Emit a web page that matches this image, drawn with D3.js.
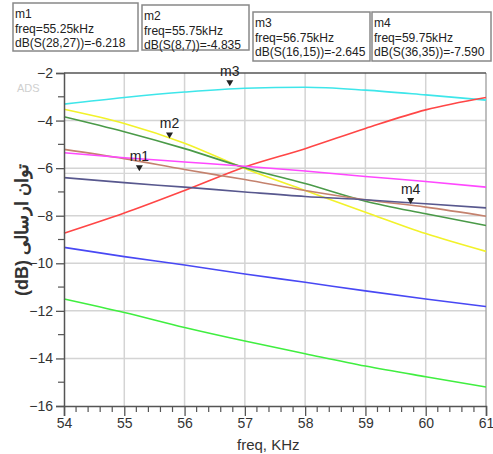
<!DOCTYPE html>
<html>
<head>
<meta charset="utf-8">
<script src="https://cdn.jsdelivr.net/npm/d3@7"></script>
<style>
  body { margin: 0; background: #fff; }
  svg { display: block; font-family: "Liberation Sans", Arial, sans-serif; }
</style>
</head>
<body>
<div id="chart"></div>
<script>
// frequency points (kHz)
const freqs = [54, 55, 56, 57, 58, 59, 60, 61];

// one array per trace, dB values at each freq
const cyanTrace    = [-3.31, -3.03, -2.80, -2.64, -2.60, -2.72, -2.92, -3.14];
const redTrace     = [-8.74, -7.89, -6.94, -5.95, -5.18, -4.33, -3.55, -3.03];
const yellowTrace  = [-3.52, -4.12, -4.95, -6.02, -6.94, -7.85, -8.75, -9.50];
const greenTrace   = [-3.84, -4.47, -5.18, -5.98, -6.65, -7.39, -7.92, -8.41];
const brownTrace   = [-5.21, -5.60, -6.06, -6.48, -6.94, -7.33, -7.64, -8.02];
const magentaTrace = [-5.35, -5.56, -5.74, -5.92, -6.12, -6.35, -6.56, -6.80];
const slateTrace   = [-6.40, -6.61, -6.80, -7.00, -7.19, -7.33, -7.50, -7.67];
const blueTrace    = [-9.33, -9.72, -10.07, -10.45, -10.80, -11.16, -11.50, -11.82];
const limeTrace    = [-11.50, -12.07, -12.70, -13.27, -13.80, -14.32, -14.77, -15.20];

const traces = [
    { values: cyanTrace,    color: "#3ee6ea" },
    { values: redTrace,     color: "#ff4646" },
    { values: yellowTrace,  color: "#f2f22a" },
    { values: greenTrace,   color: "#4a9a48" },
    { values: brownTrace,   color: "#c4826e" },
    { values: magentaTrace, color: "#ff48ff" },
    { values: slateTrace,   color: "#58588e" },
    { values: blueTrace,    color: "#4848f4" },
    { values: limeTrace,    color: "#40ee40" }
];

// markers
const markerNames = ["m1", "m2", "m3", "m4"];
const markerFreqs = [55.25, 55.75, 56.75, 59.75];
const markerLabels = ["dB(S(28,27))=-6.218", "dB(S(8,7))=-4.835", "dB(S(16,15))=-2.645", "dB(S(36,35))=-7.590"];
const markerValues = [-6.218, -4.835, -2.645, -7.590];

const xTicks = [54, 55, 56, 57, 58, 59, 60, 61];
const yTicks = [-2, -4, -6, -8, -10, -12, -14, -16];

const W = 493, H = 454;
const margin = { top: 73, right: 7, bottom: 48, left: 64 };
const width = W - margin.left - margin.right;
const height = H - margin.top - margin.bottom;

const svg = d3.select("#chart")
    .append("svg")
    .attr("width", W)
    .attr("height", H);

const g = svg.append("g")
    .attr("transform", `translate(${margin.left},${margin.top})`);

const x = d3.scaleLinear().domain([54, 61]).range([0, width]);
const y = d3.scaleLinear().domain([-16, -2]).range([height, 0]);

// grid
g.append("g")
    .selectAll("line.vg")
    .data(xTicks.slice(1, -1))
    .enter().append("line")
    .attr("x1", d => x(d)).attr("x2", d => x(d))
    .attr("y1", 0).attr("y2", height)
    .attr("stroke", "#d4d4d4").attr("stroke-width", 1.5);

g.append("g")
    .selectAll("line.hg")
    .data(yTicks.slice(1, -1))
    .enter().append("line")
    .attr("x1", 0).attr("x2", width)
    .attr("y1", d => y(d)).attr("y2", d => y(d))
    .attr("stroke", "#d4d4d4").attr("stroke-width", 1.5);

// m1 reference line
g.append("line")
    .attr("x1", 0).attr("x2", width)
    .attr("y1", y(markerValues[0])).attr("y2", y(markerValues[0]))
    .attr("stroke", "#d8d8d8").attr("stroke-width", 1.2);

// right border and top border
g.append("line")
    .attr("x1", width).attr("x2", width).attr("y1", 0).attr("y2", height)
    .attr("stroke", "#aaa").attr("stroke-width", 1.5);
g.append("line")
    .attr("x1", 0).attr("x2", width).attr("y1", 0).attr("y2", 0)
    .attr("stroke", "#555").attr("stroke-width", 1.3);

// traces
const line = d3.line()
    .x((d, i) => x(freqs[i]))
    .y(d => y(d))
    .curve(d3.curveMonotoneX);

g.selectAll(".trace")
    .data(traces)
    .enter().append("path")
    .attr("class", "trace")
    .attr("d", d => line(d.values))
    .attr("fill", "none")
    .attr("stroke", d => d.color)
    .attr("stroke-width", 1.6);

// axes
const yAxis = g.append("g")
    .call(d3.axisLeft(y).tickValues(yTicks).tickSize(8).tickPadding(3).tickFormat(d3.format("d")));
const xAxis = g.append("g")
    .attr("transform", `translate(0,${height})`)
    .call(d3.axisBottom(x).tickValues(xTicks).tickSize(10).tickPadding(2).tickFormat(d3.format("d")));

[yAxis, xAxis].forEach(a => {
    a.select(".domain").attr("stroke", "#555").attr("stroke-width", 1.5);
    a.selectAll(".tick line").attr("stroke", "#555").attr("stroke-width", 1.3);
    a.selectAll("text").attr("fill", "#333").style("font-size", "14px");
});

// minor ticks
g.append("g")
    .selectAll("line")
    .data(d3.range(-15, -2, 2))
    .enter().append("line")
    .attr("x1", -6).attr("x2", 0)
    .attr("y1", d => y(d)).attr("y2", d => y(d))
    .attr("stroke", "#555").attr("stroke-width", 1.2);

g.append("g")
    .selectAll("line")
    .data(d3.range(54, 61, 0.2).filter(d => Math.abs(d - Math.round(d)) > 0.01))
    .enter().append("line")
    .attr("x1", d => x(d)).attr("x2", d => x(d))
    .attr("y1", height).attr("y2", height + 6)
    .attr("stroke", "#555").attr("stroke-width", 1.2);

// marker triangles + labels
markerNames.forEach((name, i) => {
    const mx = x(markerFreqs[i]);
    const my = y(markerValues[i]) - 2;
    g.append("path")
        .attr("d", `M${mx - 3.5},${my - 6}L${mx + 3.5},${my - 6}L${mx},${my}Z`)
        .attr("fill", "#222");
    g.append("text")
        .attr("x", mx)
        .attr("y", my - 10)
        .attr("text-anchor", "middle")
        .attr("fill", "#222")
        .style("font-size", "14px")
        .text(name);
});

// marker readout boxes
const boxes = [
    { x: 13, y: 3, w: 125, h: 48 },
    { x: 142, y: 5, w: 107, h: 45 },
    { x: 253, y: 12, w: 117, h: 49 },
    { x: 372, y: 12, w: 119, h: 49 }
];
markerNames.forEach((name, i) => {
    const b = boxes[i];
    svg.append("rect")
        .attr("x", b.x).attr("y", b.y).attr("width", b.w).attr("height", b.h)
        .attr("fill", "#fff").attr("stroke", "#888").attr("stroke-width", 1.5);
    const lines = [name, `freq=${markerFreqs[i]}kHz`, markerLabels[i]];
    // glyphs in the source are a bit narrow, so squeeze horizontally
    lines.forEach((s, k) => {
        svg.append("text")
            .attr("transform", `translate(${b.x + 2},${b.y + 15 + k * 14.5}) scale(0.93,1)`)
            .attr("fill", "#222")
            .style("font-size", "13px")
            .text(s);
    });
});

// watermark
svg.append("text")
    .attr("x", 17).attr("y", 92)
    .attr("fill", "#cfcfcf")
    .style("font-size", "11px")
    .text("ADS");

// axis titles
svg.append("text")
    .attr("x", 237).attr("y", 450)
    .attr("fill", "#333")
    .style("font-size", "15px")
    .text("freq, KHz");

svg.append("text")
    .attr("transform", "translate(28,230) rotate(-90)")
    .attr("text-anchor", "middle")
    .attr("direction", "rtl")
    .attr("fill", "#333")
    .style("font-size", "18px")
    .style("font-weight", "bold")
    .text("توان ارسالی (dB)");
</script>
</body>
</html>
